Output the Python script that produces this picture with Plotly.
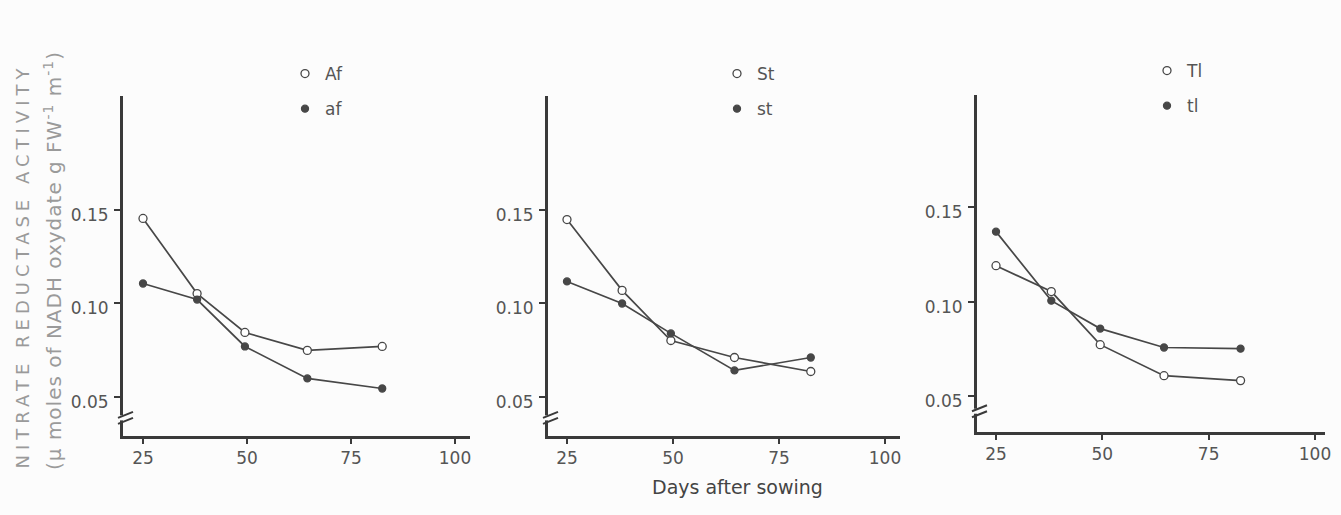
import plotly.graph_objects as go

# ---- data ----
days = [25, 38, 49.5, 64.5, 82.5]

af_open = [0.1455, 0.1053, 0.0845, 0.0749, 0.0770]    # Af
af_fill = [0.1107, 0.1021, 0.0770, 0.0599, 0.0545]    # af
st_open = [0.1449, 0.1070, 0.0802, 0.0711, 0.0636]    # St
st_fill = [0.1118, 0.1000, 0.0840, 0.0642, 0.0711]    # st
tl_open = [0.1190, 0.1053, 0.0772, 0.0608, 0.0582]    # Tl
tl_fill = [0.1370, 0.1005, 0.0857, 0.0757, 0.0751]    # tl

x_ticks = [25, 50, 75, 100]
y_ticks = [0.05, 0.10, 0.15]
y_ticklabels = ["0.05", "0.10", "0.15"]

panels = [
    ("Af", af_open, "af", af_fill),
    ("St", st_open, "st", st_fill),
    ("Tl", tl_open, "tl", tl_fill),
]

# ---- style ----
W, H = 1341, 515
FONT = "DejaVu Sans"
AXIS_COL = "#3a3a3a"
LINE_COL = "#474747"
TEXT_COL = "#555555"
BG = "#fcfcfc"

x_domains = [[123 / W, 470 / W], [548 / W, 900 / W], [977 / W, 1325 / W]]
y_domains = [[(H - 436) / H, (H - 96) / H], [(H - 436) / H, (H - 96) / H], [(H - 432) / H, (H - 95) / H]]
x_ranges = [[20.19, 103.6], [20.52, 103.54], [20.53, 102.35]]
y_ranges = [[0.0291, 0.211], [0.0291, 0.211], [0.031, 0.2093]]
legend_pos = [(285 / W, (H - 56) / H), (717 / W, (H - 56) / H), (1147 / W, (H - 53) / H)]
break_y = [0.0388, 0.0388, 0.0420]

fig = go.Figure()
layout = dict(
    width=W, height=H,
    margin=dict(l=0, r=0, t=0, b=0),
    paper_bgcolor=BG, plot_bgcolor=BG,
    font=dict(family=FONT, size=17, color=TEXT_COL),
    shapes=[], annotations=[],
)

for i, (n_open, v_open, n_fill, v_fill) in enumerate(panels):
    k = "" if i == 0 else str(i + 1)
    xa, ya = "x" + k, "y" + k
    lg = "legend" + k
    for name, vals, filled in [(n_open, v_open, False), (n_fill, v_fill, True)]:
        fig.add_trace(go.Scatter(
            x=days, y=vals, mode="lines", xaxis=xa, yaxis=ya,
            line=dict(color=LINE_COL, width=1.7), showlegend=False, hoverinfo="skip"))
        fig.add_trace(go.Scatter(
            x=days, y=vals, mode="markers", name=name, xaxis=xa, yaxis=ya,
            legend=lg, legendgroup=name,
            marker=dict(size=7 if filled else 8,
                        color=LINE_COL if filled else "white",
                        symbol="circle",
                        line=dict(color=LINE_COL, width=1.3)),
            cliponaxis=False))
    layout["xaxis" + k] = dict(
        domain=x_domains[i], range=x_ranges[i], anchor=ya,
        showline=True, linecolor=AXIS_COL, linewidth=3,
        showgrid=False, zeroline=False,
        tickmode="array", tickvals=x_ticks, ticktext=[str(t) for t in x_ticks],
        ticks="outside", ticklen=5, tickwidth=2, tickcolor=AXIS_COL,
        tickfont=dict(family=FONT, size=17, color=TEXT_COL),
        automargin=False)
    layout["yaxis" + k] = dict(
        domain=y_domains[i], range=y_ranges[i], anchor=xa,
        showline=True, linecolor=AXIS_COL, linewidth=3,
        showgrid=False, zeroline=False,
        tickmode="array", tickvals=y_ticks, ticktext=y_ticklabels,
        ticks="outside", ticklen=6, tickwidth=1.5, tickcolor=AXIS_COL,
        ticklabelshift=5, ticklabelstandoff=2,
        tickfont=dict(family=FONT, size=17, color=TEXT_COL),
        automargin=False)
    layout[lg] = dict(
        x=legend_pos[i][0], y=legend_pos[i][1], xanchor="left", yanchor="top",
        bgcolor="rgba(0,0,0,0)", borderwidth=0, tracegroupgap=10,
        font=dict(family=FONT, size=17, color=TEXT_COL), itemclick=False)
    # axis break marks on the y axis
    ybrk = break_y[i]
    layout["shapes"].append(dict(
        type="rect", xref=xa + " domain", yref=ya, xsizemode="pixel", ysizemode="pixel",
        xanchor=0, yanchor=ybrk, x0=-4, x1=4, y0=-2.5, y1=2.5,
        fillcolor=BG, line=dict(width=0), layer="above"))
    for dy in (-3, 3):
        layout["shapes"].append(dict(
            type="line", xref=xa + " domain", yref=ya, xsizemode="pixel", ysizemode="pixel",
            xanchor=0, yanchor=ybrk, x0=-5, x1=10, y0=dy - 3, y1=dy + 3,
            line=dict(color=AXIS_COL, width=2), layer="above"))

layout["annotations"] += [
    dict(text="<span style='letter-spacing:5px'>NITRATE REDUCTASE ACTIVITY</span>",
         xref="paper", yref="paper", x=9 / W, y=(H - 266) / H, textangle=-90,
         showarrow=False, font=dict(family=FONT, size=18, color="#9a9a9a")),
    dict(text="<span style='letter-spacing:1px'>(µ moles of NADH oxydate g FW<sup>-1</sup> m<sup>-1</sup>)</span>",
         xref="paper", yref="paper", x=38 / W, y=(H - 261) / H, textangle=-90,
         showarrow=False, font=dict(family=FONT, size=20, color="#9a9a9a")),
    dict(text="Days after sowing", xref="paper", yref="paper",
         x=737 / W, y=(H - 500) / H, showarrow=False,
         font=dict(family=FONT, size=19, color="#444444")),
]

fig.update_layout(**layout)
fig.write_html("out.html", config={"displayModeBar": False},
               post_script="document.body.style.margin='0';")
